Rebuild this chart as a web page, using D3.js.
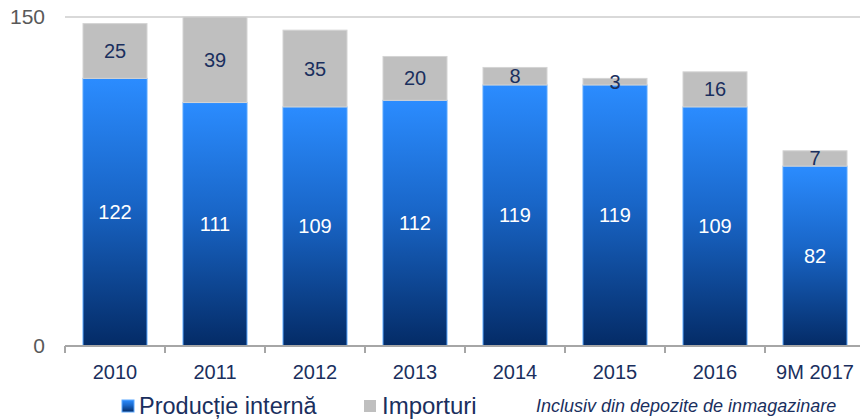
<!DOCTYPE html>
<html>
<head>
<meta charset="utf-8">
<script src="https://cdn.jsdelivr.net/npm/d3@7"></script>
<style>
  body { margin: 0; background: #fff; }
  text { font-family: "Liberation Sans", Arial, sans-serif; }
</style>
</head>
<body>
<div id="viz"></div>
<script>
const categories = ['2010', '2011', '2012', '2013', '2014', '2015', '2016', '9M 2017'];
const productie = [122, 111, 109, 112, 119, 119, 109, 82];
const importuri = [25, 39, 35, 20, 8, 3, 16, 7];
const yTicks = [0, 150];

const width = 860, height = 419;
const margin = {left: 65, right: -5, top: 17, bottom: 73};
const navy = '#1a2f5e';

const svg = d3.select('#viz').append('svg')
  .attr('width', width).attr('height', height);

const defs = svg.append('defs');
const grad = defs.append('linearGradient')
  .attr('id', 'blueGrad').attr('x1', 0).attr('y1', 0).attr('x2', 0).attr('y2', 1);
grad.append('stop').attr('offset', '0%').attr('stop-color', '#2b8cff');
grad.append('stop').attr('offset', '45%').attr('stop-color', '#1966c8');
grad.append('stop').attr('offset', '100%').attr('stop-color', '#042b66');

const x = d3.scaleBand()
  .domain(categories)
  .range([margin.left, width - margin.right])
  .paddingInner(0.36).paddingOuter(0.18);

const y = d3.scaleLinear()
  .domain([0, 150])
  .range([height - margin.bottom, margin.top]);

// gridline at top
svg.append('line')
  .attr('x1', margin.left).attr('x2', width)
  .attr('y1', y(150)).attr('y2', y(150))
  .style('stroke', '#d9d9d9').style('stroke-width', 2);

// y tick labels
svg.selectAll('.ytick').data(yTicks).enter().append('text')
  .attr('x', 45).attr('y', d => y(d))
  .attr('dy', '0.35em')
  .attr('text-anchor', 'end')
  .style('font-size', '21px').style('fill', '#595959')
  .text(d => d);

const data = categories.map((c, i) => ({c, p: productie[i], m: importuri[i]}));

const bars = svg.append('g').selectAll('g').data(data).enter().append('g');

// domestic production
bars.append('rect')
  .attr('x', d => x(d.c)).attr('width', x.bandwidth())
  .attr('y', d => y(d.p)).attr('height', d => y(0) - y(d.p))
  .style('fill', 'url(#blueGrad)')
  .style('stroke', '#5aa8ff').style('stroke-width', 1);

// imports
bars.append('rect')
  .attr('x', d => x(d.c)).attr('width', x.bandwidth())
  .attr('y', d => y(d.p + d.m)).attr('height', d => y(d.p) - y(d.p + d.m))
  .style('fill', '#bfbfbf')
  .style('stroke', '#d4d4d4').style('stroke-width', 1);

bars.append('text')
  .attr('x', d => x(d.c) + x.bandwidth() / 2)
  .attr('y', d => (y(0) + y(d.p)) / 2)
  .attr('dy', '0.35em').attr('text-anchor', 'middle')
  .style('font-size', '20px').style('fill', '#fff')
  .text(d => d.p);

bars.append('text')
  .attr('x', d => x(d.c) + x.bandwidth() / 2)
  .attr('y', d => (y(d.p) + y(d.p + d.m)) / 2)
  .attr('dy', '0.35em').attr('text-anchor', 'middle')
  .style('font-size', '20px').style('fill', navy)
  .text(d => d.m);

// x axis
const axisX = d3.axisBottom(x).tickSize(0).tickPadding(19);
const gx = svg.append('g')
  .attr('transform', `translate(0,${y(0)})`)
  .call(axisX);
gx.select('.domain').attr('d', `M${margin.left},0H${width}`)
  .style('stroke', '#a6a6a6').style('stroke-width', 2);
gx.selectAll('text').style('font-size', '20px').style('fill', navy)
  .style('font-family', '"Liberation Sans", Arial, sans-serif');
const step = x.step();
gx.selectAll('.sep').data(d3.range(categories.length + 1)).enter().append('line')
  .attr('x1', i => margin.left + i * step).attr('x2', i => margin.left + i * step)
  .attr('y1', 0).attr('y2', 7)
  .style('stroke', '#a6a6a6').style('stroke-width', 2);

// legend
const legend = svg.append('g').attr('transform', 'translate(0,406)');
legend.append('rect').attr('x', 122).attr('y', -6).attr('width', 12).attr('height', 12)
  .style('fill', 'url(#blueGrad)').style('stroke', '#5aa8ff');
legend.append('text').attr('x', 139).attr('y', 0).attr('dy', '0.35em')
  .style('font-size', '23.5px').style('fill', navy).text('Producție internă');
legend.append('rect').attr('x', 364).attr('y', -6).attr('width', 12).attr('height', 12)
  .style('fill', '#bfbfbf');
legend.append('text').attr('x', 382).attr('y', 0).attr('dy', '0.35em')
  .style('font-size', '24px').style('fill', navy).text('Importuri');
legend.append('text').attr('x', 536).attr('y', 0).attr('dy', '0.35em')
  .style('font-size', '18px').style('font-style', 'italic').style('fill', navy)
  .text('Inclusiv din depozite de inmagazinare');
</script>
</body>
</html>
